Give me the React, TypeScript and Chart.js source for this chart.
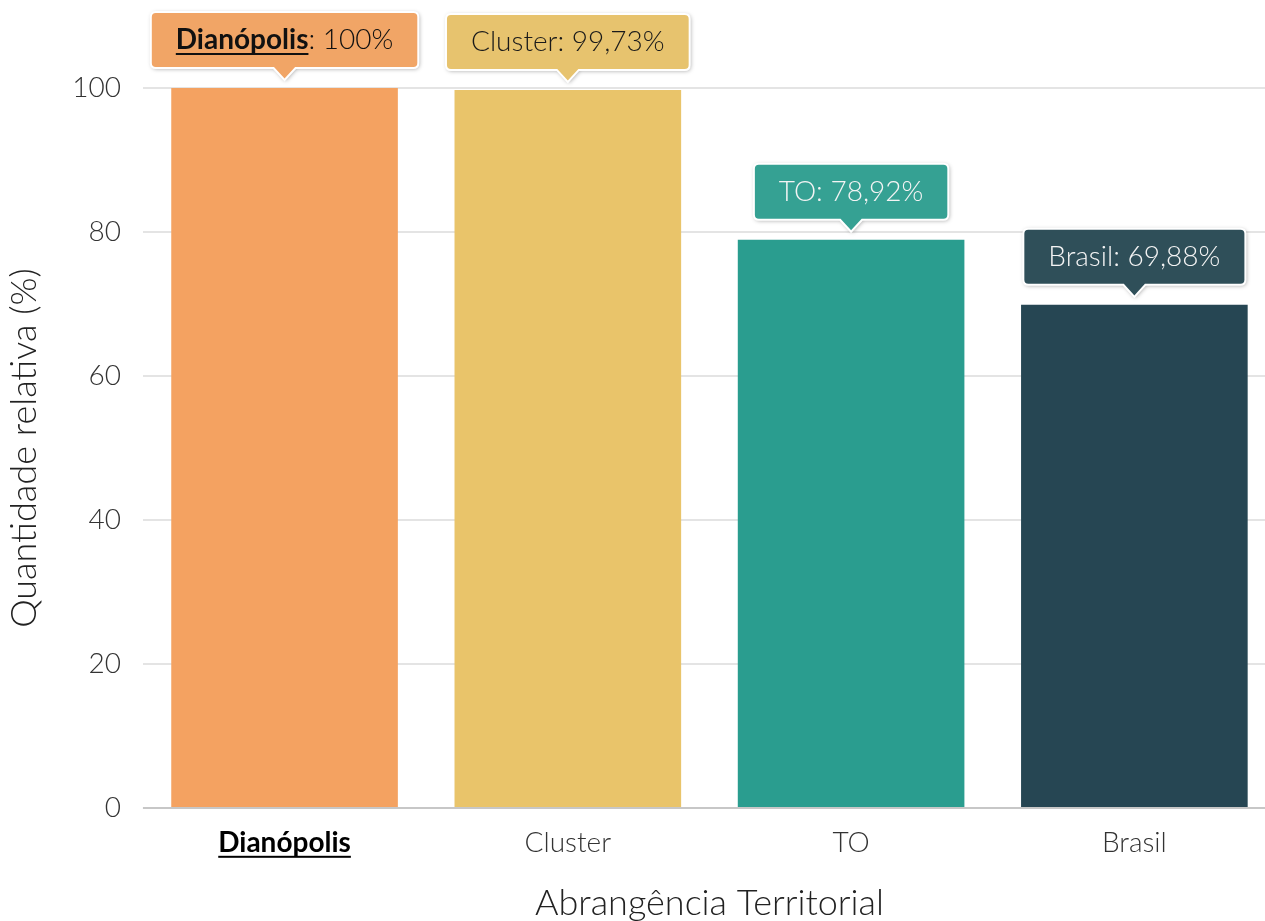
import React, { useEffect, useRef } from "react";
import { Chart, registerables } from "chart.js";

Chart.register(...registerables);

const categories = ["Dianópolis", "Cluster", "TO", "Brasil"];
const values = [100, 99.73, 78.92, 69.88];
const barColors = ["#F4A261", "#E9C46A", "#2A9D8F", "#264653"];
const boxColors = ["#F1A566", "#E7C36E", "#35A193", "#2F4F59"];
const boxTextColors = ["#111111", "#1a1a1a", "#F4F4F4", "#F4F4F4"];
const highlightIndex = 0;
const xTitle = "Abrangência Territorial";
const yTitle = "Quantidade relativa (%)";
const yMin = 0;
const yMax = 100;
const yStep = 20;

const FONT = "Lato";
const LIGHT = "300";
const TICK_SIZE = 28;
const TITLE_SIZE = 36;
const X_TICK_PAD = 18;

const fmt = (v: number) => v.toLocaleString("pt-BR", { maximumFractionDigits: 2 });

const calloutPlugin = {
  id: "callouts",
  afterDatasetsDraw(chart: any) {
    const ctx: CanvasRenderingContext2D = chart.ctx;
    const { left, right } = chart.chartArea;
    const y0 = chart.scales.y.getPixelForValue(0);
    ctx.save();
    ctx.strokeStyle = "rgba(0,0,0,0.22)";
    ctx.lineWidth = 2;
    ctx.beginPath();
    ctx.moveTo(left, y0);
    ctx.lineTo(right, y0);
    ctx.stroke();

    const meta = chart.getDatasetMeta(0);
    meta.data.forEach((bar: any, i: number) => {
      const name = categories[i];
      const rest = ": " + fmt(values[i]) + "%";
      const bold = i === highlightIndex;
      const nameFont = `${bold ? "bold" : LIGHT} ${TICK_SIZE}px ${FONT}`;
      const restFont = `${LIGHT} ${TICK_SIZE}px ${FONT}`;
      ctx.font = nameFont;
      const w1 = ctx.measureText(name).width;
      ctx.font = restFont;
      const w2 = ctx.measureText(rest).width;
      const padX = 25;
      const h = 56;
      const tipH = 12;
      const tipW = 11;
      const gap = 8;
      const r = 5;
      const w = w1 + w2 + padX * 2;
      const cx = bar.x;
      const tipY = bar.y - gap;
      const bottom = tipY - tipH;
      const top = bottom - h;
      const bx = cx - w / 2;
      const rx = bx + w;

      ctx.beginPath();
      ctx.moveTo(bx + r, top);
      ctx.lineTo(rx - r, top);
      ctx.quadraticCurveTo(rx, top, rx, top + r);
      ctx.lineTo(rx, bottom - r);
      ctx.quadraticCurveTo(rx, bottom, rx - r, bottom);
      ctx.lineTo(cx + tipW, bottom);
      ctx.lineTo(cx, tipY);
      ctx.lineTo(cx - tipW, bottom);
      ctx.lineTo(bx + r, bottom);
      ctx.quadraticCurveTo(bx, bottom, bx, bottom - r);
      ctx.lineTo(bx, top + r);
      ctx.quadraticCurveTo(bx, top, bx + r, top);
      ctx.closePath();

      ctx.save();
      ctx.shadowColor = "rgba(0,0,0,0.35)";
      ctx.shadowBlur = 4;
      ctx.shadowOffsetX = 1;
      ctx.shadowOffsetY = 1;
      ctx.fillStyle = boxColors[i];
      ctx.fill();
      ctx.restore();
      ctx.strokeStyle = "#FFFFFF";
      ctx.lineWidth = 2;
      ctx.stroke();

      const ty = top + h / 2;
      const tx = bx + padX;
      ctx.textBaseline = "middle";
      ctx.textAlign = "left";
      ctx.fillStyle = boxTextColors[i];
      ctx.font = nameFont;
      ctx.fillText(name, tx, ty);
      if (bold) {
        ctx.fillRect(tx, ty + 13, w1, 2);
      }
      ctx.font = restFont;
      ctx.fillText(rest, tx + w1, ty);
    });
    ctx.restore();
  },
  afterDraw(chart: any) {
    // underline the highlighted x tick label
    const ctx: CanvasRenderingContext2D = chart.ctx;
    const xs = chart.scales.x;
    const x = xs.getPixelForTick(highlightIndex);
    ctx.save();
    ctx.font = `bold ${TICK_SIZE}px ${FONT}`;
    const w = ctx.measureText(categories[highlightIndex]).width;
    const cy = xs.top + X_TICK_PAD + (TICK_SIZE * 1.2) / 2;
    ctx.fillStyle = "#000000";
    ctx.fillRect(x - w / 2, cy + 13, w, 2);
    ctx.restore();
  },
};

export default function App() {
  const ref = useRef<HTMLCanvasElement | null>(null);

  useEffect(() => {
    if (!ref.current) return;
    const chart = new Chart(ref.current, {
      type: "bar",
      data: {
        labels: categories,
        datasets: [
          {
            data: values,
            backgroundColor: barColors,
            borderWidth: 0,
            barPercentage: 0.8,
            categoryPercentage: 1,
          },
        ],
      },
      options: {
        animation: false,
        responsive: false,
        devicePixelRatio: 1,
        layout: { padding: { top: 88, right: 4, bottom: 0, left: 3 } },
        plugins: {
          legend: { display: false },
          tooltip: { enabled: false },
        },
        scales: {
          x: {
            grid: { display: false, drawTicks: false, tickLength: 0 },
            border: { display: false },
            ticks: {
              padding: X_TICK_PAD,
              font: (c: any) => ({
                family: FONT,
                size: TICK_SIZE,
                weight: c.index === highlightIndex ? "bold" : LIGHT,
              }),
              color: (c: any) => (c.index === highlightIndex ? "#000000" : "#333333"),
            },
            title: {
              display: true,
              text: xTitle,
              font: { family: FONT, size: TITLE_SIZE, weight: LIGHT },
              color: "#222222",
              padding: { top: 4.2, bottom: 0 },
            },
          },
          y: {
            min: yMin,
            max: yMax,
            border: { display: false },
            grid: {
              color: (c: any) => (c.tick && c.tick.value === 0 ? "rgba(0,0,0,0)" : "#E4E4E4"),
              lineWidth: 2,
              tickLength: 0,
              drawTicks: false,
            },
            ticks: {
              stepSize: yStep,
              padding: 22,
              font: { family: FONT, size: TICK_SIZE, weight: LIGHT },
              color: "#333333",
            },
            title: {
              display: true,
              text: yTitle,
              font: { family: FONT, size: TITLE_SIZE, weight: LIGHT },
              color: "#222222",
              padding: { top: 0, bottom: 4 },
            },
          },
        },
      },
      plugins: [calloutPlugin],
    });
    return () => chart.destroy();
  }, []);

  return (
    <div style={{ position: "fixed", left: 0, top: 0, width: 1265, height: 921, overflow: "hidden", background: "#fff" }}>
      <canvas ref={ref} width={1280} height={925} style={{ display: "block" }} />
    </div>
  );
}
